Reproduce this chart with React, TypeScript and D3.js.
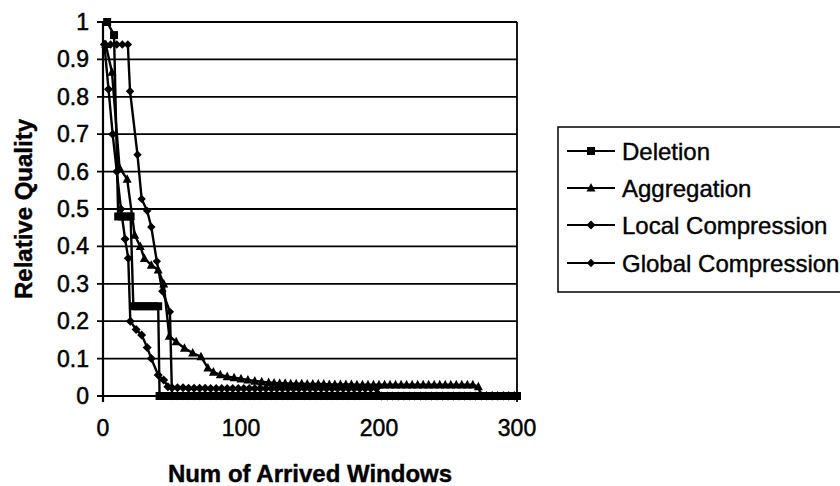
import React from "react";
import * as d3 from "d3";

type Pt = [number, number];

const xTicks = [0, 100, 200, 300];
const yTicks = [0, 0.1, 0.2, 0.3, 0.4, 0.5, 0.6, 0.7, 0.8, 0.9, 1];
const seriesNames = ["Deletion", "Aggregation", "Local Compression", "Global Compression"];

const deletion: Pt[] = [
  [3, 1], [8, 0.965], [11, 0.48], [14, 0.48], [17, 0.48], [20, 0.48], [22, 0.24], [25, 0.24],
  [28, 0.24], [31, 0.24], [34, 0.24], [37, 0.24], [40, 0.24], [41, 0], [44, 0], [48, 0], [52, 0],
  [56, 0], [60, 0], [64, 0], [68, 0], [72, 0], [76, 0], [80, 0], [84, 0], [88, 0], [92, 0], [96, 0],
  [100, 0], [104, 0], [108, 0], [112, 0], [116, 0], [120, 0], [124, 0], [128, 0], [132, 0], [136, 0],
  [140, 0], [144, 0], [148, 0], [152, 0], [156, 0], [160, 0], [164, 0], [168, 0], [172, 0], [176, 0],
  [180, 0], [184, 0], [188, 0], [192, 0], [196, 0], [200, 0], [204, 0], [208, 0], [212, 0], [216, 0],
  [220, 0], [224, 0], [228, 0], [232, 0], [236, 0], [240, 0], [244, 0], [248, 0], [252, 0], [256, 0],
  [260, 0], [264, 0], [268, 0], [272, 0], [276, 0], [280, 0], [284, 0], [288, 0], [292, 0], [296, 0],
  [300, 0],
];

const aggregation: Pt[] = [
  [2, 0.94], [6.5, 0.866], [12, 0.61], [17.5, 0.58], [23, 0.43], [27, 0.4], [30, 0.368], [35, 0.35],
  [40, 0.337], [44, 0.3], [48, 0.16], [53, 0.145], [59, 0.128], [65, 0.115], [71, 0.105], [76, 0.075],
  [80, 0.064], [85, 0.057], [90, 0.052], [95, 0.049], [100, 0.046], [105, 0.043], [110, 0.04],
  [115, 0.038], [120, 0.036], [124, 0.035], [128, 0.034], [132, 0.034], [136, 0.033], [140, 0.033],
  [144, 0.033], [148, 0.032], [152, 0.032], [156, 0.032], [160, 0.032], [164, 0.031], [168, 0.031],
  [172, 0.031], [176, 0.031], [180, 0.031], [184, 0.03], [188, 0.03], [192, 0.03], [196, 0.03],
  [200, 0.03], [204, 0.03], [208, 0.03], [212, 0.03], [216, 0.03], [220, 0.03], [224, 0.03],
  [228, 0.03], [232, 0.03], [236, 0.03], [240, 0.03], [244, 0.03], [248, 0.03], [252, 0.03],
  [256, 0.03], [260, 0.03], [264, 0.03], [268, 0.03], [272, 0.025], [274, 0], [278, 0], [282, 0],
  [286, 0], [290, 0], [294, 0], [298, 0],
];

const localCompression: Pt[] = [
  [1, 0.94], [4, 0.82], [7, 0.7], [10, 0.6], [13, 0.5], [16, 0.42], [18.3, 0.368], [19.8, 0.2],
  [24, 0.178], [28, 0.163], [32, 0.13], [35, 0.1], [40, 0.056], [44, 0.043], [47, 0.025], [50, 0.022],
  [54, 0.022], [58, 0.022], [62, 0.021], [66, 0.021], [70, 0.021], [74, 0.021], [78, 0.02], [82, 0.02],
  [86, 0.02], [90, 0.02], [94, 0.02], [98, 0.02], [102, 0.02], [106, 0.02], [110, 0.02], [114, 0.02],
  [118, 0.02], [122, 0.02], [126, 0.02], [130, 0.02], [134, 0.02], [138, 0.02], [142, 0.02],
  [146, 0.02], [150, 0.02], [154, 0.02], [158, 0.02], [162, 0.02], [166, 0.02], [170, 0.02],
  [174, 0.02], [178, 0.02], [182, 0.02], [186, 0.02], [190, 0.02], [194, 0.02], [198, 0.02],
  [202, 0], [206, 0], [210, 0], [214, 0], [218, 0], [222, 0], [226, 0], [230, 0], [234, 0], [238, 0],
  [242, 0], [246, 0], [250, 0], [254, 0], [258, 0], [262, 0], [266, 0], [270, 0], [274, 0], [278, 0],
  [282, 0], [286, 0], [290, 0], [294, 0], [298, 0],
];

const globalCompression: Pt[] = [
  [1.5, 0.94], [5.5, 0.94], [10, 0.94], [14, 0.94], [18, 0.94], [19.6, 0.815], [25, 0.645],
  [28, 0.527], [32, 0.495], [35, 0.452], [39, 0.36], [43, 0.28], [48.5, 0.225], [50, 0], [54, 0],
  [58, 0], [62, 0], [66, 0], [70, 0], [74, 0], [78, 0], [82, 0], [86, 0], [90, 0], [94, 0], [98, 0],
  [102, 0], [106, 0], [110, 0], [114, 0], [118, 0], [122, 0], [126, 0], [130, 0], [134, 0], [138, 0],
  [142, 0], [146, 0], [150, 0], [154, 0], [158, 0], [162, 0], [166, 0], [170, 0], [174, 0], [178, 0],
  [182, 0], [186, 0], [190, 0], [194, 0], [198, 0], [202, 0], [206, 0], [210, 0], [214, 0], [218, 0],
  [222, 0], [226, 0], [230, 0], [234, 0], [238, 0], [242, 0], [246, 0], [250, 0], [254, 0], [258, 0],
  [262, 0], [266, 0], [270, 0], [274, 0], [278, 0], [282, 0], [286, 0], [290, 0], [294, 0], [298, 0],
];

const seriesData: Pt[][] = [deletion, aggregation, localCompression, globalCompression];
const markerKinds = ["square", "triangle", "diamond", "diamond"];

function markerPath(kind: string, r: number): string {
  if (kind === "square") return `M${-r},${-r}H${r}V${r}H${-r}Z`;
  if (kind === "triangle") return `M0,${-r * 1.1}L${r},${r * 0.8}L${-r},${r * 0.8}Z`;
  return `M0,${-r}L${r},0L0,${r}L${-r},0Z`;
}
const markerSize = [4, 4.5, 4.5, 4.2];

const FONT = "'Liberation Sans', Arial, Helvetica, sans-serif";

export default function App() {
  const W = 840;
  const H = 486;
  const x = d3.scaleLinear().domain([0, 300]).range([103, 517]);
  const y = d3.scaleLinear().domain([0, 1]).range([396, 22]);
  const line = d3
    .line<Pt>()
    .x((d) => x(d[0]))
    .y((d) => y(d[1]));

  const legendX = 558;
  const legendY = 127;
  const legendRows = [151, 188, 225, 263];

  return (
    <svg
      width={W}
      height={H}
      viewBox={`0 0 ${W} ${H}`}
      style={{ position: "absolute", left: 0, top: 0, background: "#fff" }}
      fontFamily={FONT}
    >
      <rect x={0} y={0} width={W} height={H} fill="#fff" />
      {yTicks.map((t) => (
        <g key={"gy" + t}>
          <line x1={97} x2={517} y1={y(t)} y2={y(t)} stroke="#000" strokeWidth={1.8} />
          <text
            x={89}
            y={y(t)}
            textAnchor="end"
            dominantBaseline="central"
            fontSize={23}
            fill="#000"
            stroke="#000"
            strokeWidth={0.5}
          >
            {t === 0 ? "0" : t === 1 ? "1" : d3.format(".1f")(t)}
          </text>
        </g>
      ))}
      <line x1={x(0)} x2={x(0)} y1={y(1)} y2={y(0) + 6} stroke="#000" strokeWidth={2.2} />
      <line x1={x(300)} x2={x(300)} y1={y(1)} y2={y(0) + 6} stroke="#000" strokeWidth={1.8} />
      {xTicks.map((t) => (
        <text
          key={"xt" + t}
          x={x(t)}
          y={428}
          textAnchor="middle"
          dominantBaseline="central"
          fontSize={23}
          fill="#000"
          stroke="#000"
          strokeWidth={0.5}
        >
          {t}
        </text>
      ))}
      {seriesData.map((s, i) => (
        <g key={"s" + i}>
          <path d={line(s) || ""} fill="none" stroke="#000" strokeWidth={2.4} />
          {s.map((d, j) => (
            <path
              key={j}
              d={markerPath(markerKinds[i], markerSize[i])}
              transform={`translate(${x(d[0])},${y(d[1])})`}
              fill="#000"
            />
          ))}
        </g>
      ))}
      <text
        x={310}
        y={473}
        textAnchor="middle"
        dominantBaseline="central"
        fontSize={24}
        fontWeight="bold"
        fill="#000"
        stroke="#000"
        strokeWidth={0.4}
      >
        Num of Arrived Windows
      </text>
      <text
        transform={`translate(23,${(y(0) + y(1)) / 2}) rotate(-90)`}
        textAnchor="middle"
        dominantBaseline="central"
        fontSize={24}
        fontWeight="bold"
        fill="#000"
        stroke="#000"
        strokeWidth={0.4}
      >
        Relative Quality
      </text>
      <rect
        x={legendX}
        y={legendY}
        width={320}
        height={165}
        fill="#fff"
        stroke="#000"
        strokeWidth={1.5}
      />
      {seriesNames.map((name, i) => (
        <g key={"lg" + i}>
          <line
            x1={567}
            x2={615}
            y1={legendRows[i]}
            y2={legendRows[i]}
            stroke="#000"
            strokeWidth={2.2}
          />
          <path
            d={markerPath(markerKinds[i], markerSize[i])}
            transform={`translate(591,${legendRows[i]})`}
            fill="#000"
          />
          <text
            x={622}
            y={legendRows[i]}
            dominantBaseline="central"
            fontSize={24}
            fill="#000"
            stroke="#000"
            strokeWidth={0.4}
          >
            {name}
          </text>
        </g>
      ))}
    </svg>
  );
}
